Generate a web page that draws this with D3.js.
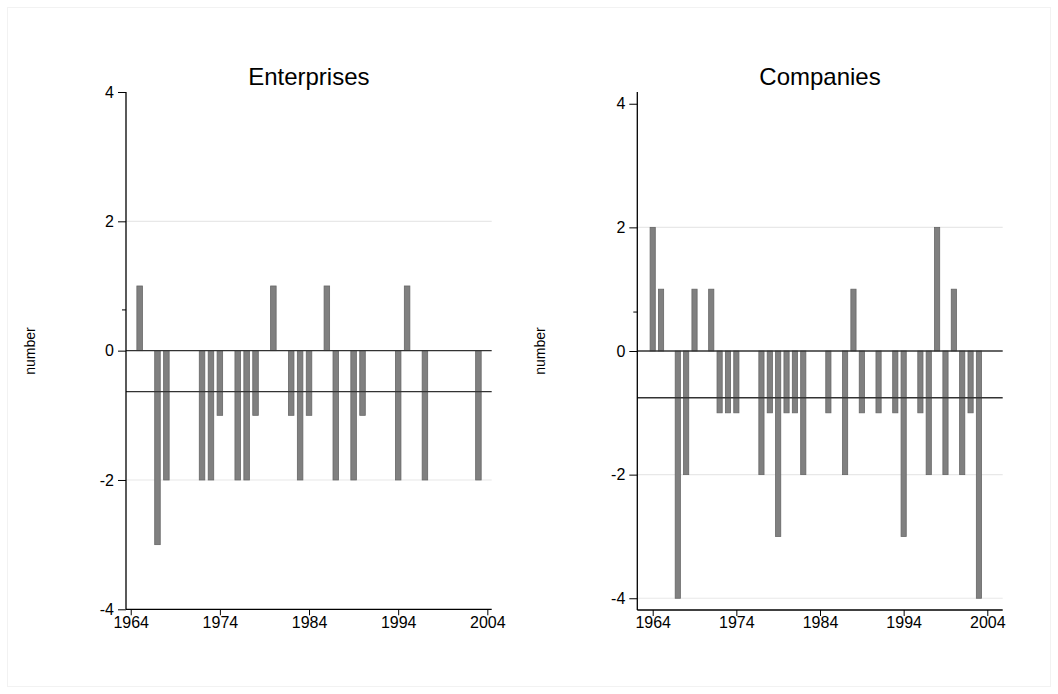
<!DOCTYPE html>
<html>
<head>
<meta charset="utf-8">
<script src="https://cdn.jsdelivr.net/npm/d3@7"></script>
<style>
  html, body { margin: 0; padding: 0; background: #fff; }
  svg text { font-family: "Liberation Sans", Arial, sans-serif; fill: #000; }
</style>
</head>
<body>
<svg id="chart" width="1058" height="694"></svg>
<script>
(function() {
    const years = d3.range(1964, 2005);
    const enterprises = [0, 1, 0, -3, -2, 0, 0, 0, -2, -2, -1, 0, -2, -2, -1, 0, 1, 0, -1, -2, -1,
        0, 1, -2, 0, -2, -1, 0, 0, 0, -2, 1, 0, -2, 0, 0, 0, 0, 0, -2, 0];
    const companies = [2, 1, 0, -4, -2, 1, 0, 1, -1, -1, -1, 0, 0, -2, -1, -3, -1, -1, -2, 0, 0,
        -1, 0, -2, 1, -1, 0, -1, 0, -1, -3, 0, -1, -2, 2, -2, 1, -2, -1, -4, 0];
    const xTicks = [1964, 1974, 1984, 1994, 2004];
    const yTicks = [-4, -2, 0, 2, 4];

    const svg = d3.select("#chart");
    const fmt = d => d < 0 ? "-" + Math.abs(d) : String(d);

    svg.append("rect")
        .attr("x", 7.5).attr("y", 7.5)
        .attr("width", 1043).attr("height", 679)
        .attr("fill", "none")
        .attr("stroke", "#f2f2f2");

    const panels = [
        { title: "Enterprises", values: enterprises, xr: [126, 491.7], xd: [1963.47, 2004.49],
          yr: [609.3, 92], yd: [-4, 4], grid: [-2, 2], labelX: 30 },
        { title: "Companies", values: companies, xr: [637.3, 1002.7], xd: [1962.16, 2005.84],
          yr: [610, 92], yd: [-4.19, 4.19], grid: [-4, -2, 2], labelX: 540 }
    ];

    panels.forEach(p => {
        const x = d3.scaleLinear().domain(p.xd).range(p.xr);
        const y = d3.scaleLinear().domain(p.yd).range(p.yr);
        const g = svg.append("g");
        const data = years.map((yr, i) => ({ year: yr, value: p.values[i] }));
        const mean = d3.mean(p.values);

        // grid lines
        g.selectAll("line.grid")
            .data(p.grid)
            .enter().append("line")
            .attr("class", "grid")
            .attr("x1", p.xr[0]).attr("x2", p.xr[1])
            .attr("y1", d => y(d)).attr("y2", d => y(d))
            .attr("stroke", "#e8e8e8")
            .attr("stroke-width", 1.2);

        // bars
        const bw = x(1964.62) - x(1964);
        g.selectAll("rect.bar")
            .data(data.filter(d => d.value !== 0))
            .enter().append("rect")
            .attr("class", "bar")
            .attr("x", d => x(d.year) - bw / 2)
            .attr("y", d => y(Math.max(0, d.value)))
            .attr("width", bw)
            .attr("height", d => Math.abs(y(d.value) - y(0)))
            .attr("fill", "#808080")
            .attr("stroke", "#666")
            .attr("stroke-width", 0.8);

        // zero and mean lines
        [0, mean].forEach(v => {
            g.append("line")
                .attr("x1", p.xr[0]).attr("x2", p.xr[1])
                .attr("y1", y(v)).attr("y2", y(v))
                .attr("stroke", "#333")
                .attr("stroke-width", 1.3);
        });

        // y axis
        const yAxis = d3.axisLeft(y).tickValues(yTicks).tickSize(8).tickPadding(4).tickFormat(fmt);
        const ya = g.append("g")
            .attr("transform", `translate(${p.xr[0]},0)`)
            .attr("font-size", 16)
            .call(yAxis);
        ya.select(".domain").attr("d", `M0,${p.yr[1]}V${p.yr[0]}`).attr("stroke", "#000").attr("stroke-width", 1.3);
        ya.selectAll(".tick line").attr("stroke", "#000");
        ya.selectAll(".tick text").style("font-size", "16px").attr("fill", "#000");
        ya.append("line")
            .attr("x1", -4).attr("x2", 0)
            .attr("y1", y(0.63)).attr("y2", y(0.63))
            .attr("stroke", "#000");

        // x axis
        const xAxis = d3.axisBottom(x).tickValues(xTicks).tickSize(6).tickPadding(1).tickFormat(d3.format("d"));
        const xa = g.append("g")
            .attr("transform", `translate(0,${p.yr[0]})`)
            .attr("font-size", 16)
            .call(xAxis);
        xa.select(".domain").attr("d", `M${p.xr[0]},0H${p.xr[1]}`).attr("stroke", "#000").attr("stroke-width", 1.3);
        xa.selectAll(".tick line").attr("stroke", "#000");
        xa.selectAll(".tick text").style("font-size", "16px").attr("fill", "#000");

        // title
        g.append("text")
            .attr("x", (p.xr[0] + p.xr[1]) / 2)
            .attr("y", 85)
            .attr("text-anchor", "middle")
            .style("font-size", "24px")
            .text(p.title);

        // y label
        g.append("text")
            .attr("transform", `translate(${p.labelX + 5},351) rotate(-90)`)
            .attr("text-anchor", "middle")
            .style("font-size", "14px")
            .text("number");
    });
})();
</script>
</body>
</html>
